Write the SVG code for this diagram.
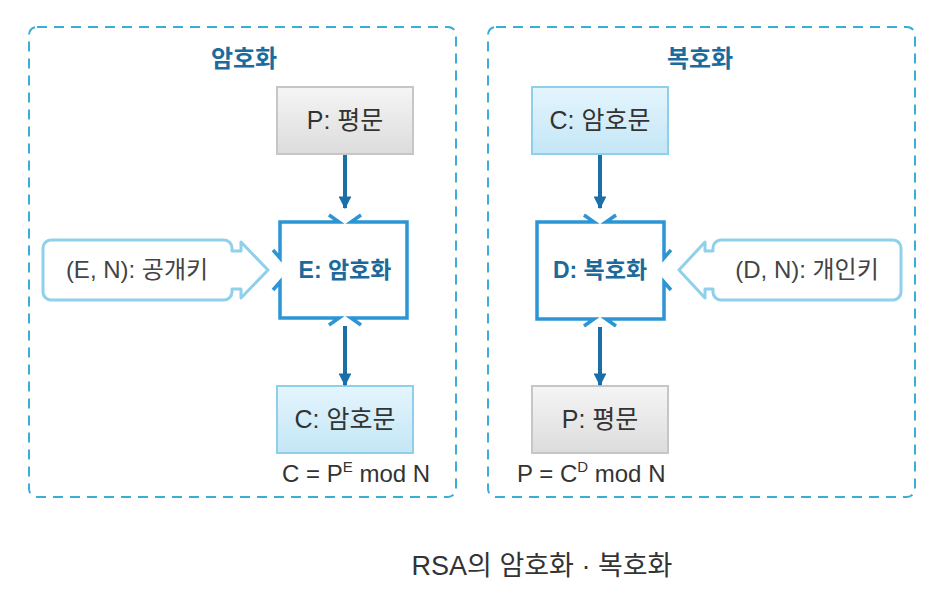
<svg xmlns="http://www.w3.org/2000/svg" width="945" height="600" viewBox="0 0 945 600">
<defs>
<linearGradient id="gGray" x1="0" y1="0" x2="0" y2="1"><stop offset="0" stop-color="#f5f5f5"/><stop offset="1" stop-color="#dcdcdc"/></linearGradient>
<linearGradient id="gBlue" x1="0" y1="0" x2="0" y2="1"><stop offset="0" stop-color="#e4f5fd"/><stop offset="1" stop-color="#c4e6f6"/></linearGradient>
<marker id="ah" viewBox="0 0 10 10" refX="9" refY="5" markerWidth="3.2" markerHeight="3.2" orient="auto" markerUnits="strokeWidth"><path d="M0,0 L10,5 L0,10 Z" fill="#1b6fa8"/></marker>
</defs>
<style>
.cont{fill:none;stroke:#3aaed6;stroke-width:2;stroke-dasharray:10 7}
.title{font-family:"Liberation Sans","Noto Sans CJK KR",sans-serif;font-weight:bold;font-size:24px;fill:#1a6b9e;text-anchor:middle}
.gray{fill:url(#gGray);stroke:#c6c6c6;stroke-width:2}
.blue{fill:url(#gBlue);stroke:#8fcfea;stroke-width:2}
.lbl{font-family:"Liberation Sans","Noto Sans CJK KR",sans-serif;font-size:25px;fill:#333;text-anchor:middle}
.proc{fill:none;stroke:#2b95d6;stroke-width:3.5;stroke-linejoin:miter}
.plbl{font-family:"Liberation Sans","Noto Sans CJK KR",sans-serif;font-weight:bold;font-size:23px;fill:#1b6a9c;text-anchor:middle}
.key{fill:#fff;stroke:#8fd0ea;stroke-width:3;stroke-linejoin:round}
.klbl{font-family:"Liberation Sans","Noto Sans CJK KR",sans-serif;font-size:24px;fill:#444;text-anchor:middle}
.form{font-family:"Liberation Sans","Noto Sans CJK KR",sans-serif;font-size:24px;fill:#333}
.conn{stroke:#1b6fa8;stroke-width:4;fill:none}
.cap{font-family:"Liberation Sans","Noto Sans CJK KR",sans-serif;font-size:27px;fill:#333;text-anchor:middle}
</style>
<rect width="945" height="600" fill="#fff"/>

<g id="encrypt-panel">
<rect class="cont" x="29" y="27" width="427" height="470" rx="8"/>
<text class="title" x="244" y="67">암호화</text>
</g>
<g id="decrypt-panel">
<rect class="cont" x="488" y="27" width="427" height="470" rx="8"/>
<text class="title" x="700" y="67">복호화</text>
</g>

<g id="enc-plain">
<rect class="gray" x="277" y="87" width="136" height="67"/>
<text class="lbl" x="345" y="129">P: 평문</text>
</g>
<g id="enc-process">
<path class="proc" d="M329,215 L339,222 H280 V258 L273,250"/>
<path class="proc" d="M361,215 L351,222 H407 V318 H351 L361,325"/>
<path class="proc" d="M273,290 L280,282 V318 H339 L329,325"/>
<text class="plbl" x="345" y="278">E: 암호화</text>
</g>
<g id="enc-cipher">
<rect class="blue" x="277" y="386" width="136" height="67"/>
<text class="lbl" x="345" y="428">C: 암호문</text>
</g>
<g id="enc-formula">
<text class="form" x="282" y="482">C = P<tspan font-size="15" dy="-10">E</tspan><tspan dy="10"> mod N</tspan></text>
</g>
<g id="public-key">
<path class="key" d="M51,240 H224 A8,8 0 0 1 232,248 V251 H241 V242 L268,270 L241,298 V289 H232 V292 A8,8 0 0 1 224,300 H51 A8,8 0 0 1 43,292 V248 A8,8 0 0 1 51,240 Z"/>
<text class="klbl" x="137" y="278">(E, N): 공개키</text>
</g>

<g id="dec-cipher">
<rect class="blue" x="532" y="87" width="136" height="67"/>
<text class="lbl" x="600" y="129">C: 암호문</text>
</g>
<g id="dec-process">
<path class="proc" d="M584,215 L594,222 H537 V319 H594 L584,326"/>
<path class="proc" d="M616,215 L606,222 H664 V258 L671,250"/>
<path class="proc" d="M671,290 L664,282 V319 H606 L616,326"/>
<text class="plbl" x="600" y="278">D: 복호화</text>
</g>
<g id="dec-plain">
<rect class="gray" x="532" y="386" width="136" height="67"/>
<text class="lbl" x="600" y="428">P: 평문</text>
</g>
<g id="dec-formula">
<text class="form" x="517" y="482">P = C<tspan font-size="15" dy="-10">D</tspan><tspan dy="10"> mod N</tspan></text>
</g>
<g id="private-key">
<path class="key" d="M893,240 H721 A8,8 0 0 0 713,248 V251 H705 V242 L679,270 L705,298 V289 H713 V292 A8,8 0 0 0 721,300 H893 A8,8 0 0 0 901,292 V248 A8,8 0 0 0 893,240 Z"/>
<text class="klbl" x="807" y="278">(D, N): 개인키</text>
</g>

<g id="connectors">
<line class="conn" x1="345" y1="155" x2="345" y2="208" marker-end="url(#ah)"/>
<line class="conn" x1="345" y1="326" x2="345" y2="385" marker-end="url(#ah)"/>
<line class="conn" x1="600" y1="155" x2="600" y2="208" marker-end="url(#ah)"/>
<line class="conn" x1="600" y1="327" x2="600" y2="385" marker-end="url(#ah)"/>
</g>

<text class="cap" x="542" y="575">RSA의 암호화 · 복호화</text>
</svg>
